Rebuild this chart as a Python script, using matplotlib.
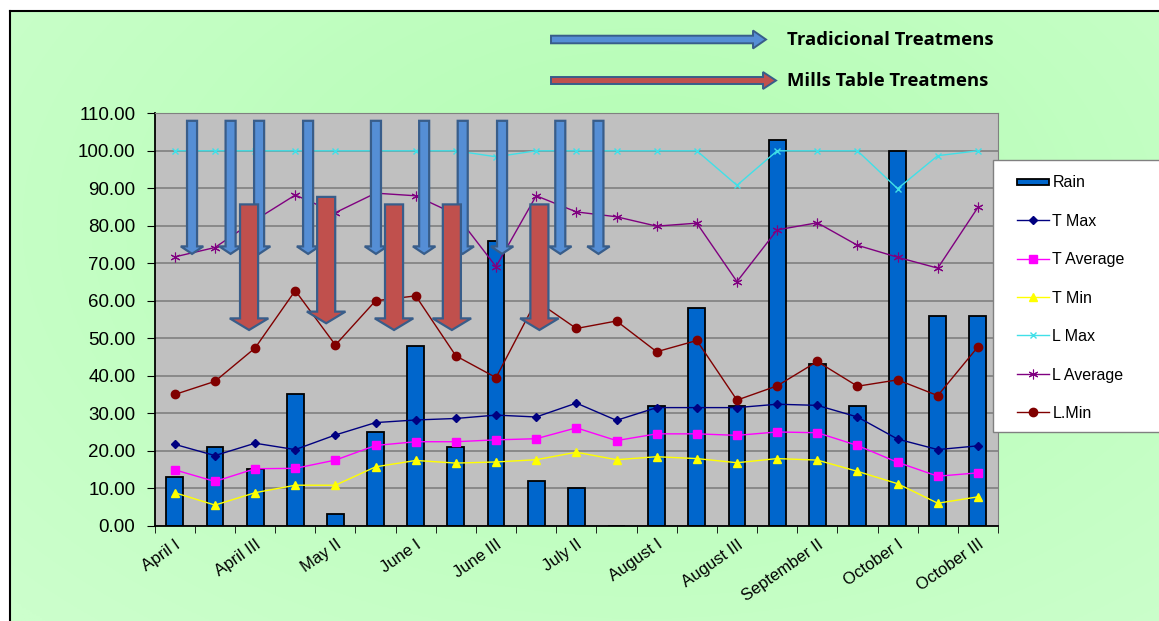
import numpy as np
import matplotlib
matplotlib.use('Agg')
import matplotlib.pyplot as plt
from matplotlib.patches import Polygon, Rectangle, Patch
from matplotlib.lines import Line2D
from matplotlib.legend_handler import HandlerPatch

# ---------------- data ----------------
categories = ["April I", "April II", "April III", "May I", "May II", "May III",
              "June I", "June II", "June III", "July I", "July II", "July III",
              "August I", "August II", "August III", "September I", "September II",
              "September III", "October I", "October II", "October III"]
rain = [13, 21, 15, 35, 3, 25, 48, 21, 76, 12, 10, 0, 32, 58, 32, 103, 43, 32, 100, 56, 56]
t_max = [21.7, 18.7, 22.0, 20.3, 24.2, 27.5, 28.2, 28.6, 29.5, 29.0, 32.7, 28.1,
         31.5, 31.5, 31.5, 32.4, 32.1, 29.0, 23.1, 20.3, 21.3]
t_avg = [14.9, 11.8, 15.2, 15.3, 17.5, 21.4, 22.4, 22.4, 22.9, 23.2, 26.1, 22.7,
         24.5, 24.5, 24.1, 25.0, 24.8, 21.4, 16.9, 13.2, 14.1]
t_min = [8.8, 5.5, 8.8, 10.8, 10.8, 15.7, 17.4, 16.7, 17.0, 17.6, 19.6, 17.6,
         18.4, 17.9, 16.8, 17.9, 17.5, 14.5, 11.2, 6.0, 7.7]
l_max = [100, 100, 100, 100, 100, 100, 100, 100, 98.4, 100, 100, 100,
         100, 100, 90.8, 100, 100, 100, 89.9, 98.7, 100]
l_avg = [71.7, 74.2, 81.5, 88.2, 83.5, 88.7, 88.0, 83.0, 69.1, 88.0, 83.7, 82.4,
         79.9, 80.7, 65.1, 78.9, 80.8, 74.8, 71.6, 68.7, 84.9]
l_min = [35.0, 38.5, 47.4, 62.7, 48.2, 60.0, 61.3, 45.3, 39.5, 60.0, 52.6, 54.6,
         46.4, 49.4, 33.5, 37.3, 43.8, 37.2, 38.9, 34.7, 47.7]

# treatment dates (category positions) and arrow spans (value axis)
trad_x = [0.43, 1.39, 2.10, 3.32, 5.01, 6.21, 7.17, 8.15, 9.60, 10.55]
trad_top = 108.0
trad_tip = 72.5
mills_x = [1.85, 3.77, 5.46, 6.90, 9.08]
mills_top = [85.7, 87.7, 85.7, 85.7, 85.7]
mills_tip = [52.2, 54.0, 52.2, 52.2, 52.2]

W, H = 1159, 621
fig = plt.figure(figsize=(W / 100, H / 100), dpi=100)
fig.patch.set_facecolor('white')

# ---------------- background ----------------
bg = fig.add_axes([10 / W, 0, 1 - 10 / W, 1 - 11 / H])
yy, xx = np.mgrid[0:1:300j, 0:1:600j]
d = np.sqrt(((xx - 0.55) / 0.75) ** 2 + ((yy - 0.35) / 0.9) ** 2)
d = np.clip(d, 0, 1)
c0 = np.array([0xB3, 0xFD, 0xB3]) / 255
c1 = np.array([0xCC, 0xFF, 0xCC]) / 255
img = c0 + (c1 - c0) * d[..., None]
bg.imshow(img, aspect='auto', extent=[0, 1, 0, 1], origin='upper')
bg.set_xticks([]); bg.set_yticks([])
for s in ['right', 'bottom']:
    bg.spines[s].set_visible(False)
for s in ['left', 'top']:
    bg.spines[s].set_color('black')
    bg.spines[s].set_linewidth(1.5)

# ---------------- main axes ----------------
ax = fig.add_axes([154.7 / W, 1 - 525.7 / H, (998 - 154.7) / W, (525.7 - 113.3) / H])
ax.set_facecolor('#C0C0C0')
x = np.arange(len(categories))

ax.bar(x, rain, width=0.42, color='#0066CC', edgecolor='black', linewidth=1.3, zorder=2)
lw = 1.0
ax.plot(x, t_max, color='#000080', marker='D', ms=4.5, lw=lw, zorder=3)
ax.plot(x, t_avg, color='#FF00FF', marker='s', ms=6, lw=lw, zorder=3)
ax.plot(x, t_min, color='#FFFF00', marker='^', ms=6, lw=lw, zorder=3)
ax.plot(x, l_max, color='#40E0E8', marker='x', ms=5, mew=1, lw=lw, zorder=3)
ax.plot(x, l_avg, color='#800080', marker=(6, 2, 0), ms=7, mew=0.8, lw=lw, zorder=3)
ax.plot(x, l_min, color='#800000', marker='o', ms=6, lw=lw, zorder=3)

ax.set_xlim(-0.5, len(categories) - 0.5)
ax.set_ylim(0, 110)
ax.set_yticks(np.arange(0, 111, 10))
ax.set_yticklabels(['%.2f' % v for v in np.arange(0, 111, 10)],
                   fontsize=13.5, family='Liberation Sans')
ax.yaxis.grid(True, color='#808080', lw=1.2, zorder=0)
ax.set_axisbelow(True)
ax.tick_params(axis='y', length=6, direction='out', pad=8)

ax.set_xticks(x[::2])
ax.set_xticklabels(categories[::2], rotation=35, ha='right', va='top',
                   rotation_mode='anchor', fontsize=12, family='Liberation Sans')
ax.tick_params(axis='x', which='major', length=0, pad=8)
ax.set_xticks(np.arange(-0.5, len(categories)), minor=True)
ax.tick_params(axis='x', which='minor', length=5, direction='out')

ax.spines['left'].set_color('black')
ax.spines['bottom'].set_color('black')
ax.spines['left'].set_linewidth(1.3)
ax.spines['bottom'].set_linewidth(1.3)
ax.spines['top'].set_color('#808080')
ax.spines['right'].set_color('#808080')


def down_arrow(xc, top, tip, w, hw, hl, fc, z):
    pts = [(xc - w, top), (xc + w, top), (xc + w, tip + hl), (xc + hw, tip + hl),
           (xc, tip), (xc - hw, tip + hl), (xc - w, tip + hl)]
    ax.add_patch(Polygon(pts, closed=True, facecolor=fc, edgecolor='#385D8A',
                         lw=1.6, zorder=z, joinstyle='miter'))


for xc in trad_x:
    down_arrow(xc, trad_top, trad_tip, 0.125, 0.28, 2.0, '#558ED5', 5)
for xc, tp, tip in zip(mills_x, mills_top, mills_tip):
    down_arrow(xc, tp, tip, 0.225, 0.48, 3.1, '#C0504D', 6)

# ---------------- legend ----------------
frame = Rectangle((993 / W, 1 - 432 / H), 200 / W, (432 - 160) / H,
                  transform=fig.transFigure, facecolor='white', edgecolor='#808080',
                  lw=1, clip_on=False, zorder=9)
ax.add_artist(frame)

rain_h = Patch(facecolor='#0066CC', edgecolor='black', linewidth=1.3)


def thin_rect(legend, orig_handle, xdescent, ydescent, width, height, fontsize):
    return Rectangle((-xdescent, -ydescent + height * 0.22), width, height * 0.5)


handles = [rain_h,
           Line2D([], [], color='#000080', marker='D', ms=4.5, lw=lw),
           Line2D([], [], color='#FF00FF', marker='s', ms=6, lw=lw),
           Line2D([], [], color='#FFFF00', marker='^', ms=6, lw=lw),
           Line2D([], [], color='#40E0E8', marker='x', ms=5, lw=lw),
           Line2D([], [], color='#800080', marker=(6, 2, 0), ms=7, mew=0.8, lw=lw),
           Line2D([], [], color='#800000', marker='o', ms=6, lw=lw)]
labels = ['Rain', 'T Max', 'T Average', 'T Min', 'L Max', 'L Average', 'L.Min']
leg = ax.legend(handles, labels, loc='upper left', bbox_to_anchor=(998 / W, 1 - 156 / H),
                bbox_transform=fig.transFigure, frameon=False,
                prop={'family': 'Liberation Sans', 'size': 11.5},
                borderpad=1.2, labelspacing=1.47, handlelength=2.0, handletextpad=0.2,
                borderaxespad=0, handler_map={rain_h: HandlerPatch(patch_func=thin_rect)})
leg.set_zorder(10)

# ---------------- top key arrows ----------------
ov = fig.add_axes([0, 0, 1, 1], zorder=20)
ov.set_xlim(0, W); ov.set_ylim(H, 0); ov.axis('off')


def right_arrow(x0, x1, yc, sh, hh, hl, fc):
    pts = [(x0, yc - sh), (x1 - hl, yc - sh), (x1 - hl, yc - hh), (x1, yc),
           (x1 - hl, yc + hh), (x1 - hl, yc + sh), (x0, yc + sh)]
    ov.add_patch(Polygon(pts, closed=True, facecolor=fc, edgecolor='#385D8A', lw=1.4))


right_arrow(551, 766, 39.5, 3.8, 9, 13, '#558ED5')
right_arrow(551, 776, 80.5, 3.5, 8.5, 13, '#C0504D')
fig.text(787 / W, 1 - 40 / H, 'Tradicional Treatmens', fontsize=13.3, fontweight='bold',
         family='Open Sans', va='center', ha='left')
fig.text(787 / W, 1 - 80.5 / H, 'Mills Table Treatmens', fontsize=13.3, fontweight='bold',
         family='Open Sans', va='center', ha='left')

fig.savefig('out.png', dpi=100, facecolor=fig.get_facecolor())
